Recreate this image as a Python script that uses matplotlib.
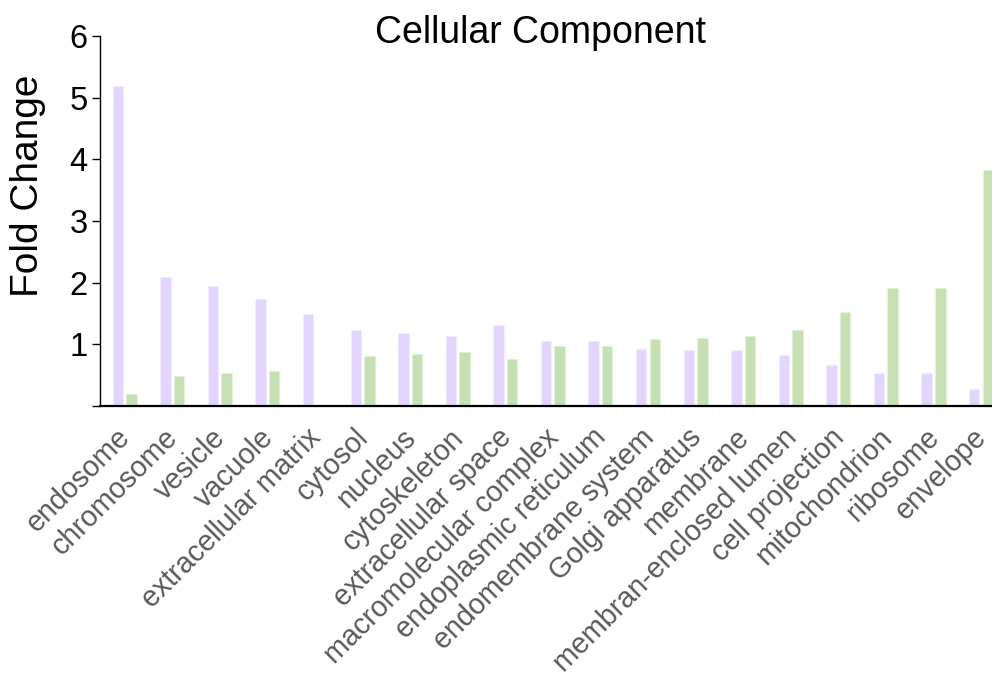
import matplotlib
matplotlib.use("Agg")
import matplotlib.pyplot as plt
import matplotlib.transforms as mtransforms
import numpy as np

plt.rcParams['font.family'] = ['Liberation Sans', 'DejaVu Sans']

categories = ["endosome", "chromosome", "vesicle", "vacuole", "extracellular matrix",
              "cytosol", "nucleus", "cytoskeleton", "extracellular space",
              "macromolecular complex", "endoplasmic reticulum", "endomembrane system",
              "Golgi apparatus", "membrane", "membran-enclosed lumen", "cell projection",
              "mitochondrion", "ribosome", "envelope"]
series_a = [5.19, 2.09, 1.94, 1.73, 1.49, 1.23, 1.19, 1.14, 1.31, 1.05, 1.05, 0.92,
            0.91, 0.91, 0.83, 0.67, 0.53, 0.53, 0.27]
series_b = [0.19, 0.49, 0.53, 0.57, 0.0, 0.81, 0.84, 0.88, 0.76, 0.97, 0.97, 1.09,
            1.11, 1.14, 1.23, 1.52, 1.92, 1.92, 3.82]
y_ticks = [0, 1, 2, 3, 4, 5, 6]
y_ticklabels = ["", "1", "2", "3", "4", "5", "6"]

W, H = 992, 679
fig = plt.figure(figsize=(W / 100, H / 100), dpi=100)
ax = fig.add_axes([100 / W, 1 - 406 / H, (W - 100) / W, (406 - 36) / H])

x = np.arange(len(categories))
off, bw = 0.143, 0.22
ax.bar(x - off, series_a, width=bw, color="#E3D5FD", edgecolor="#F2ECFE", linewidth=0.8, zorder=2)
ax.bar(x + off, series_b, width=bw, color="#C6E0B4", edgecolor="#E2F0D9", linewidth=0.8, zorder=2)

ax.set_xlim(-0.519, 18.23)
ax.set_ylim(0, 6)
ax.set_yticks(y_ticks)
ax.set_yticklabels(y_ticklabels, fontsize=23.5)
ax.tick_params(axis='y', length=6, width=1, pad=3, direction='out')
ax.set_xticks(x)
ax.set_xticklabels(categories, rotation=45, ha='right', va='center',
                   rotation_mode='anchor', fontsize=20.6, color='#595959')
ax.tick_params(axis='x', length=0, pad=19.5)
shift = mtransforms.ScaledTranslation(1.5 / 100, 0, fig.dpi_scale_trans)
for lbl in ax.get_xticklabels():
    lbl.set_transform(lbl.get_transform() + shift)

for s in ('top', 'right'):
    ax.spines[s].set_visible(False)
ax.spines['left'].set_linewidth(1.0)
ax.spines['bottom'].set_linewidth(1.6)
ax.spines['bottom'].set_zorder(3)

fig.text(28 / W, 1 - 186 / H, "Fold Change", rotation=90, ha='center', va='center', fontsize=28)
fig.text(540.5 / W, 1 - 33 / H, "Cellular Component", ha='center', va='center', fontsize=27)

fig.savefig("out.png", dpi=100)
